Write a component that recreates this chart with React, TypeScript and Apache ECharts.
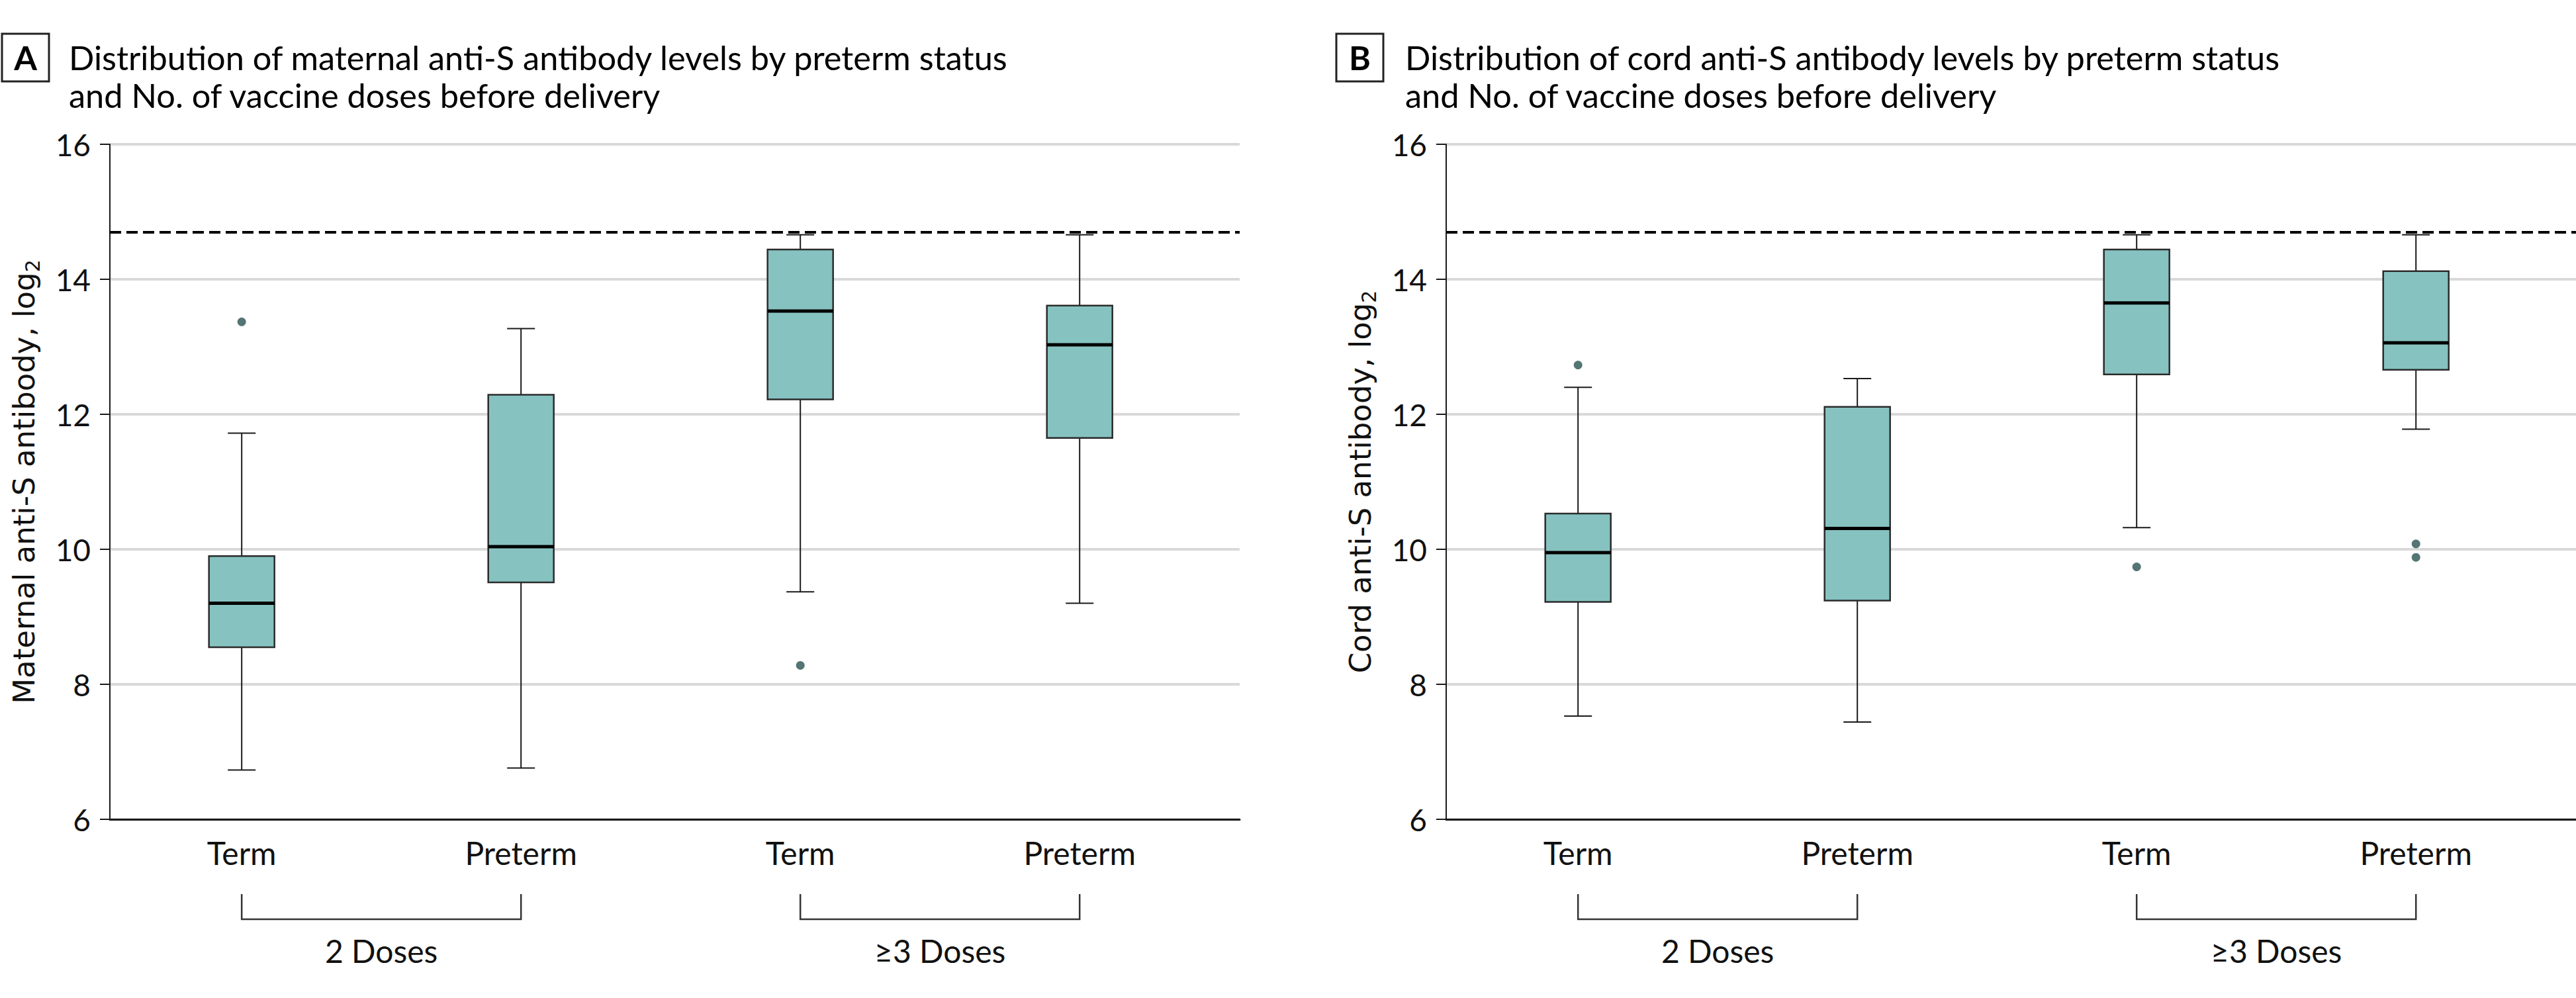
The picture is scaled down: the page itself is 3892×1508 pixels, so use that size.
import React, { useEffect, useRef } from 'react';
import * as echarts from 'echarts';

// ---------- data ----------
const groupPositions = [1, 2, 3, 4];
const categoryLabels = ['Term', 'Preterm', 'Term', 'Preterm'];
const doseGroupLabels = ['2 Doses', '≥3 Doses'];
const doseGroupSpans = [
  [1, 2],
  [3, 4],
];
const yTicks = { min: 6, max: 16, interval: 2 };
const upperLimit = 14.7;

// [lower whisker, Q1, median, Q3, upper whisker]
const maternalBoxes = [
  [6.73, 8.55, 9.2, 9.9, 11.72],
  [6.76, 9.51, 10.04, 12.29, 13.27],
  [9.37, 12.22, 13.53, 14.44, 14.66],
  [9.2, 11.65, 13.03, 13.61, 14.66],
];
const maternalOutliers = [
  [1, 13.37],
  [3, 8.28],
];

const cordBoxes = [
  [7.53, 9.22, 9.95, 10.53, 12.4],
  [7.44, 9.24, 10.31, 12.11, 12.53],
  [10.32, 12.59, 13.65, 14.44, 14.66],
  [11.78, 12.66, 13.06, 14.12, 14.66],
];
const cordOutliers = [
  [1, 12.73],
  [3, 9.74],
  [4, 10.08],
  [4, 9.88],
];

const panelLetters = ['A', 'B'];
const panelTitles = [
  ['Distribution of maternal anti-S antibody levels by preterm status', 'and No. of vaccine doses before delivery'],
  ['Distribution of cord anti-S antibody levels by preterm status', 'and No. of vaccine doses before delivery'],
];
const yNames = ['Maternal anti-S antibody, log', 'Cord anti-S antibody, log'];
const yNameSub = '2';

// ---------- style ----------
const W = 3892;
const H = 1508;
const FONT = "Lato, 'Noto Sans', sans-serif";
const NAME_FONT = "'DejaVu Sans', sans-serif";
const BOX_FILL = '#86c2c0';
const INK = '#1a1a1a';
const X_MIN = 0.528;
const X_MAX = 4.573;
const BOX_W = 99;
const CAP_W = 42;
const gridLefts = [166, 2185];
const GRID_TOP = 218;
const GRID_W = 1707;
const GRID_H = 1020;
const titleBoxX = [3, 2019];
const titleTextX = [104, 2123];

function renderBox(params: any, api: any) {
  const x = api.value(0);
  const lo = api.coord([x, api.value(1)]);
  const q1 = api.coord([x, api.value(2)]);
  const med = api.coord([x, api.value(3)]);
  const q3 = api.coord([x, api.value(4)]);
  const hi = api.coord([x, api.value(5)]);
  const cx = lo[0];
  const lineStyle = { stroke: INK, lineWidth: 2 };
  return {
    type: 'group',
    children: [
      { type: 'line', shape: { x1: cx, y1: hi[1], x2: cx, y2: q3[1] }, style: lineStyle },
      { type: 'line', shape: { x1: cx, y1: q1[1], x2: cx, y2: lo[1] }, style: lineStyle },
      { type: 'line', shape: { x1: cx - CAP_W / 2, y1: hi[1], x2: cx + CAP_W / 2, y2: hi[1] }, style: lineStyle },
      { type: 'line', shape: { x1: cx - CAP_W / 2, y1: lo[1], x2: cx + CAP_W / 2, y2: lo[1] }, style: lineStyle },
      {
        type: 'rect',
        shape: { x: cx - BOX_W / 2, y: q3[1], width: BOX_W, height: q1[1] - q3[1] },
        style: { fill: BOX_FILL, stroke: '#2b2b2b', lineWidth: 2.5 },
      },
      {
        type: 'line',
        shape: { x1: cx - BOX_W / 2, y1: med[1], x2: cx + BOX_W / 2, y2: med[1] },
        style: { stroke: '#000', lineWidth: 5 },
      },
    ],
  };
}

function renderBracket(params: any, api: any) {
  const a = api.coord([api.value(0), api.value(2)]);
  const b = api.coord([api.value(1), api.value(2)]);
  const y0 = params.coordSys.y + params.coordSys.height;
  const yTop = y0 + 113;
  const yBot = y0 + 151;
  return {
    type: 'group',
    children: [
      {
        type: 'polyline',
        shape: { points: [[a[0], yTop], [a[0], yBot], [b[0], yBot], [b[0], yTop]] },
        style: { stroke: '#333', lineWidth: 2.5, fill: 'none' },
      },
      {
        type: 'text',
        x: (a[0] + b[0]) / 2,
        y: y0 + 198,
        style: {
          text: doseGroupLabels[params.dataIndex],
          fontSize: 48,
          fontFamily: FONT,
          fill: '#111',
          align: 'center',
          verticalAlign: 'middle',
        },
      },
    ],
  };
}

export default function App() {
  const ref = useRef<HTMLDivElement>(null);
  useEffect(() => {
    if (!ref.current) return;
    const chart = echarts.init(ref.current, undefined, { renderer: 'svg', width: W, height: H });
    const panels = [
      { boxes: maternalBoxes, outliers: maternalOutliers },
      { boxes: cordBoxes, outliers: cordOutliers },
    ];
    const grid: any[] = [];
    const xAxis: any[] = [];
    const yAxis: any[] = [];
    const series: any[] = [];
    const graphic: any[] = [];
    panels.forEach((p, i) => {
      grid.push({ left: gridLefts[i], top: GRID_TOP, width: GRID_W, height: GRID_H });
      xAxis.push({
        gridIndex: i,
        type: 'value',
        min: X_MIN,
        max: X_MAX,
        axisLine: { show: true, onZero: false, lineStyle: { color: INK, width: 3 } },
        axisTick: { show: false },
        splitLine: { show: false },
        axisLabel: {
          customValues: groupPositions,
          formatter: (v: number) => categoryLabels[Math.round(v) - 1] ?? '',
          fontSize: 48,
          fontFamily: FONT,
          color: '#111',
          margin: 26,
        },
      });
      yAxis.push({
        gridIndex: i,
        type: 'value',
        min: yTicks.min,
        max: yTicks.max,
        interval: yTicks.interval,
        axisLine: { show: true, lineStyle: { color: INK, width: 2 } },
        axisTick: { show: true, length: 15, lineStyle: { color: INK, width: 2 } },
        axisLabel: { fontSize: 46, fontFamily: FONT, color: '#111', margin: 29 },
        splitLine: { show: true, lineStyle: { color: '#d9d9d9', width: 4 } },
        name: `{m|${yNames[i]}}{s|${yNameSub}}`,
        nameLocation: 'middle',
        nameGap: 102,
        nameTextStyle: {
          rich: {
            m: { fontFamily: NAME_FONT, fontSize: 45, color: '#111', lineHeight: 56 },
            s: { fontFamily: NAME_FONT, fontSize: 30, color: '#111', verticalAlign: 'bottom', lineHeight: 56 },
          },
        },
      });
      series.push({
        type: 'custom',
        xAxisIndex: i,
        yAxisIndex: i,
        renderItem: renderBox,
        encode: { x: 0, y: [1, 2, 3, 4, 5] },
        data: p.boxes.map((b, k) => [groupPositions[k], ...b]),
        z: 3,
        markLine: {
          silent: true,
          symbol: ['none', 'none'],
          label: { show: false },
          lineStyle: { type: [17, 8], color: '#000', width: 4 },
          data: [{ yAxis: upperLimit }],
        },
      });
      series.push({
        type: 'scatter',
        xAxisIndex: i,
        yAxisIndex: i,
        symbol: 'circle',
        symbolSize: 13,
        itemStyle: { color: '#285250' },
        data: p.outliers,
        z: 4,
      });
      series.push({
        type: 'custom',
        xAxisIndex: i,
        yAxisIndex: i,
        renderItem: renderBracket,
        encode: { x: [0, 1], y: 2 },
        data: doseGroupSpans.map((s) => [s[0], s[1], yTicks.min]),
        clip: false,
        silent: true,
      });
      graphic.push({
        type: 'rect',
        shape: { x: titleBoxX[i], y: 51, width: 71, height: 72 },
        style: { fill: '#fff', stroke: '#222', lineWidth: 3 },
      });
      graphic.push({
        type: 'text',
        x: titleBoxX[i] + 35.5,
        y: 87,
        style: {
          text: panelLetters[i],
          fontSize: 50,
          fontWeight: 'bold',
          fontFamily: FONT,
          fill: '#000',
          align: 'center',
          verticalAlign: 'middle',
        },
      });
      panelTitles[i].forEach((line, j) => {
        graphic.push({
          type: 'text',
          x: titleTextX[i],
          y: 86 + j * 57,
          style: {
            text: line,
            fontSize: 50.5,
            fontFamily: FONT,
            fill: '#000',
            align: 'left',
            verticalAlign: 'middle',
          },
        });
      });
    });
    chart.setOption({
      animation: false,
      backgroundColor: '#ffffff',
      grid,
      xAxis,
      yAxis,
      series,
      graphic,
    });
    return () => chart.dispose();
  }, []);
  return <div ref={ref} style={{ position: 'fixed', left: 0, top: 0, width: W, height: H }} />;
}
